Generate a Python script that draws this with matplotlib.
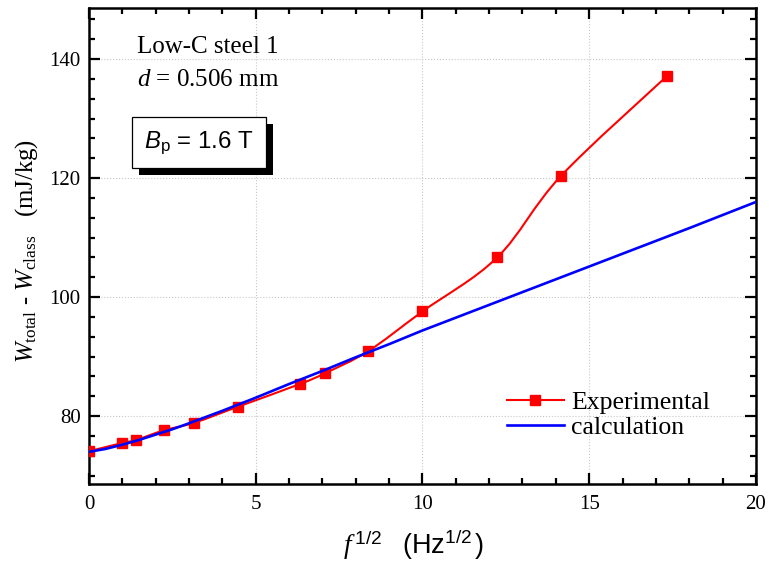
import numpy as np
import matplotlib
matplotlib.use("Agg")
import matplotlib.pyplot as plt
from matplotlib.path import Path
from matplotlib.patches import PathPatch
from matplotlib import patheffects
from matplotlib.ticker import MultipleLocator

# data
x_exp = [0.0, 1.0, 1.414, 2.236, 3.162, 4.472, 6.325, 7.071, 8.367, 10.0, 12.247, 14.142, 17.321]
y_exp = [74.1, 75.5, 76.0, 77.6, 78.9, 81.6, 85.4, 87.2, 90.9, 97.6, 106.7, 120.3, 137.1]

x_calc = [0, 0.5, 1, 1.5, 2, 2.5, 3, 4, 5, 6, 7, 8, 9, 10, 12, 14, 16, 18, 20]
y_calc = [74.0, 74.5, 75.2, 76.0, 76.9, 77.8, 78.8, 80.9, 83.1, 85.4, 87.6, 89.9, 92.1,
          94.4, 98.7, 103.0, 107.3, 111.6, 116.0]

plt.rcParams["font.family"] = ["Liberation Serif", "DejaVu Serif"]
plt.rcParams["mathtext.fontset"] = "custom"
plt.rcParams["mathtext.rm"] = "Liberation Serif"
plt.rcParams["mathtext.it"] = "Liberation Serif:italic"
plt.rcParams["mathtext.sf"] = "Liberation Sans"
plt.rcParams["mathtext.cal"] = "Liberation Sans:italic"


def smooth_path(xs, ys):
    # catmull-rom style bezier through the points
    pts = np.column_stack([xs, ys]).astype(float)
    n = len(pts)
    verts = [tuple(pts[0])]
    codes = [Path.MOVETO]
    for i in range(n - 1):
        p0 = pts[max(i - 1, 0)]
        p1 = pts[i]
        p2 = pts[i + 1]
        p3 = pts[min(i + 2, n - 1)]
        c1 = p1 + (p2 - p0) / 6.0
        c2 = p2 - (p3 - p1) / 6.0
        verts += [tuple(c1), tuple(c2), tuple(p2)]
        codes += [Path.CURVE4] * 3
    return Path(verts, codes)


fig = plt.figure(figsize=(7.69, 5.62), dpi=100)
ax = fig.add_axes([0.1157, 0.1388, 0.8673, 0.847])

red = "#ff0000"
blue = "#0000ff"

ax.add_patch(PathPatch(smooth_path(x_exp, y_exp), fill=False, edgecolor=red, lw=1.5, zorder=3))
ax.plot(x_exp, y_exp, ls="none", marker="s", ms=7, color=red, zorder=4)
ax.plot(x_calc, y_calc, color=blue, lw=1.9, zorder=5)

# legend handles
h1, = ax.plot([], [], color=red, lw=1.5, marker="s", ms=6.5)
h2, = ax.plot([], [], color=blue, lw=1.9)
ax.legend([h1, h2], ["Experimental", "calculation"], loc="center left",
          bbox_to_anchor=(0.627, 0.145), frameon=False, borderpad=0, borderaxespad=0,
          fontsize=18.5, handlelength=2.2, handletextpad=0.3, labelspacing=0.1)

ax.set_xlim(0, 20)
ax.set_ylim(68.6, 148.6)
ax.xaxis.set_major_locator(MultipleLocator(5))
ax.xaxis.set_minor_locator(MultipleLocator(1))
ax.yaxis.set_major_locator(MultipleLocator(20))
ax.yaxis.set_minor_locator(MultipleLocator(20 / 6))
ax.tick_params(which="both", direction="in", top=True, right=True, width=1.6,
               labelsize=15)
ax.tick_params(which="major", length=8, pad=8)
ax.tick_params(which="minor", length=4.5)
ax.tick_params(axis="y", which="major", pad=6)
ax.tick_params(labeltop=False, labelright=False)
for sp in ax.spines.values():
    sp.set_linewidth(1.8)

ax.grid(True, which="major", ls=":", color="#c8c8c8", lw=0.8)
ax.set_axisbelow(True)

ax.set_ylabel(r"$W_{\rm total}$ - $W_{\rm class}$   (mJ/kg)", fontsize=17.8)
ax.yaxis.set_label_coords(-0.074, 0.489)
ax.set_xlabel(r"$f^{\,\mathsf{1/2}}$   $\mathsf{(Hz^{1/2}\,)}$", fontsize=19.5)
ax.xaxis.set_label_coords(0.487, -0.092)

ax.text(0.072, 0.918, "Low-C steel 1", transform=ax.transAxes, fontsize=18, va="center")
ax.text(0.072, 0.849, r"$d$ = 0.506 mm", transform=ax.transAxes, fontsize=18, va="center")

t = ax.text(0.165, 0.717, r"$\mathcal{B}_{\mathsf{p}}$ = 1.6 T", transform=ax.transAxes,
            fontsize=17.3, family="Liberation Sans", va="center", ha="center",
            bbox=dict(boxstyle="square,pad=0.5", fc="white", ec="black", lw=0.9))
t.get_bbox_patch().set_path_effects([
    patheffects.SimplePatchShadow(offset=(5, -5), shadow_rgbFace="black", alpha=1.0),
    patheffects.Normal()])

fig.savefig("out.png", dpi=100)
